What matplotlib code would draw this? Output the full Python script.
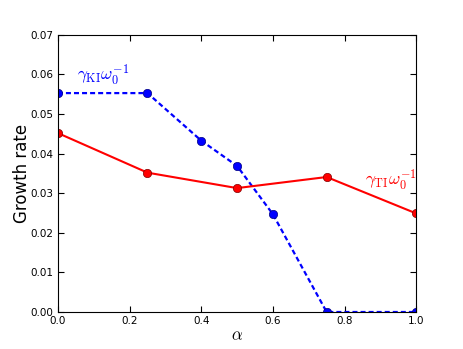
import matplotlib
matplotlib.use("Agg")
import matplotlib.pyplot as plt

# data
alpha_ki = [0.0, 0.25, 0.4, 0.5, 0.6, 0.75, 1.0]
gamma_ki = [0.0553, 0.0553, 0.0433, 0.0369, 0.0247, 0.0, 0.0]
alpha_ti = [0.0, 0.25, 0.5, 0.75, 1.0]
gamma_ti = [0.0452, 0.0352, 0.0313, 0.0341, 0.0249]

plt.rcParams['mathtext.fontset'] = 'cm'
plt.rcParams['xtick.direction'] = 'in'
plt.rcParams['ytick.direction'] = 'in'
plt.rcParams['xtick.top'] = True
plt.rcParams['ytick.right'] = True
plt.rcParams['lines.scale_dashes'] = False

fig = plt.figure(figsize=(4.63, 3.49), dpi=100)
ax = fig.add_axes([0.125, 0.106, 0.774, 0.794])

ax.plot(alpha_ki, gamma_ki, 'o', ls=(0, (3.6, 2.2)), color='blue', lw=1.6, ms=6,
        mec='#000080', mew=0.5)
ax.plot(alpha_ti, gamma_ti, 'o-', color='red', lw=1.5, ms=6, mec='#800000', mew=0.5)

ax.text(0.052, 0.0586, r'$\gamma_{\rm KI}\omega_0^{-1}$', color='blue', fontsize=12.5)
ax.text(0.857, 0.0320, r'$\gamma_{\rm TI}\omega_0^{-1}$', color='red', fontsize=12.5)

ax.set_xlim(0, 1)
ax.set_ylim(0, 0.07)
ax.set_xticks([0.0, 0.2, 0.4, 0.6, 0.8, 1.0])
ax.set_yticks([0.0, 0.01, 0.02, 0.03, 0.04, 0.05, 0.06, 0.07])
ax.set_xticklabels(['0.0', '0.2', '0.4', '0.6', '0.8', '1.0'])
ax.set_yticklabels(['0.00', '0.01', '0.02', '0.03', '0.04', '0.05', '0.06', '0.07'])
ax.tick_params(labelsize=7.5, length=4, width=0.8, pad=3)
ax.set_xlabel(r'$\alpha$', fontsize=12, labelpad=0)
ax.set_ylabel('Growth rate', fontsize=12, labelpad=0)

fig.savefig('out.png', dpi=100)
